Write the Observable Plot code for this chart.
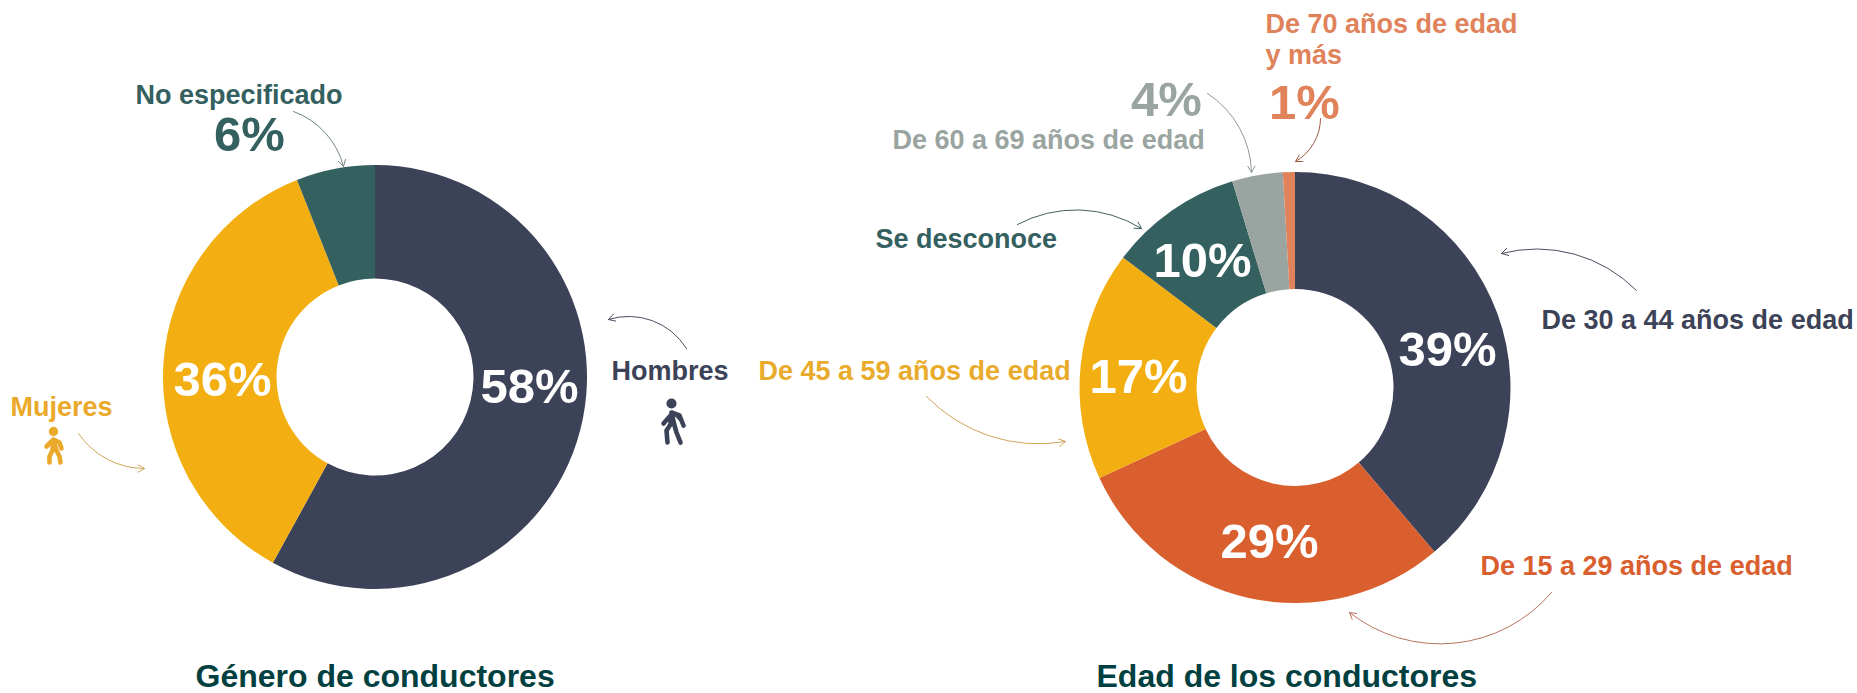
<!DOCTYPE html>
<html lang="es">
<head>
<meta charset="utf-8">
<script src="https://cdn.jsdelivr.net/npm/d3@7"></script>
<script src="https://cdn.jsdelivr.net/npm/@observablehq/plot@0.6"></script>
<style>
  html, body { margin: 0; padding: 0; background: #fff; }
  svg { display: block; }
</style>
</head>
<body>
<div id="chart"></div>
<script>
// ---- data ----
const genderCategories = ["Hombres", "Mujeres", "No especificado"];
const genderValues = [58, 36, 6];
const genderColors = ["#3c4257", "#f3af12", "#356060"];

const ageCategories = ["De 30 a 44 años de edad", "De 15 a 29 años de edad", "De 45 a 59 años de edad", "Se desconoce", "De 60 a 69 años de edad", "De 70 años de edad y más"];
const ageValues = [38.8, 29.3, 17.2, 10, 3.8, 0.9];
const ageLabels = ["39%", "29%", "17%", "10%", "4%", "1%"];
const ageColors = ["#3c4257", "#d9602e", "#f3af12", "#356060", "#9aa4a0", "#e0825a"];

// ---- layout ----
const W = 1857, H = 693;
const FONT = "'Liberation Sans', Arial, sans-serif";
const donutLeft = {cx: 375, cy: 377, outer: 212, inner: 98.5};
const donutRight = {cx: 1295, cy: 387.5, outer: 215.5, inner: 98.5};

const percentLabels = [
  {text: "58%", x: 529, y: 402, fill: "#fff"},
  {text: "36%", x: 222, y: 395, fill: "#fff"},
  {text: "6%", x: 249, y: 150, fill: genderColors[2]},
  {text: ageLabels[0], x: 1447, y: 365, fill: "#fff"},
  {text: ageLabels[1], x: 1269, y: 557, fill: "#fff"},
  {text: ageLabels[2], x: 1138, y: 392, fill: "#fff"},
  {text: ageLabels[3], x: 1202, y: 276, fill: "#fff"},
  {text: ageLabels[4], x: 1166, y: 115, fill: ageColors[4]},
  {text: ageLabels[5], x: 1304, y: 118, fill: ageColors[5]}
];
const nameLabels = [
  {text: "No especificado", x: 135, y: 103, fill: genderColors[2]},
  {text: "Mujeres", x: 10, y: 415, fill: "#eaa92a"},
  {text: "Hombres", x: 611, y: 379, fill: genderColors[0]},
  {text: ageCategories[2], x: 758, y: 379, fill: "#e9ab2c"},
  {text: "De 70 años de edad", x: 1265, y: 32, fill: ageColors[5]},
  {text: "y más", x: 1265, y: 63, fill: ageColors[5]},
  {text: ageCategories[4], x: 892, y: 148, fill: ageColors[4]},
  {text: ageCategories[3], x: 875, y: 247, fill: ageColors[3]},
  {text: ageCategories[0], x: 1541, y: 328, fill: ageColors[0]},
  {text: ageCategories[1], x: 1480, y: 574, fill: ageColors[1]}
];
const titles = [
  {text: "Género de conductores", x: 195, y: 686},
  {text: "Edad de los conductores", x: 1096, y: 686}
];
const arrows = [
  {x1: 293, y1: 111, x2: 343, y2: 166, bend: 28, stroke: "#6f8484"},
  {x1: 78, y1: 433, x2: 144, y2: 468, bend: -28, stroke: "#cda658"},
  {x1: 686, y1: 348, x2: 608, y2: 319, bend: -38, stroke: "#4a4e60"},
  {x1: 926, y1: 396, x2: 1065, y2: 441, bend: -28, stroke: "#cda658"},
  {x1: 1207, y1: 93, x2: 1251, y2: 172, bend: 28, stroke: "#8f9a96"},
  {x1: 1320, y1: 118, x2: 1295, y2: 161, bend: 30, stroke: "#a05a44"},
  {x1: 1017, y1: 224, x2: 1141, y2: 228, bend: 30, stroke: "#445f5f"},
  {x1: 1636, y1: 290, x2: 1501, y2: 253, bend: -30, stroke: "#4a4e60"},
  {x1: 1551, y1: 592, x2: 1349, y2: 612, bend: 44, stroke: "#b8735c"}
];

// ---- walking-figure symbols ----
function figure(head, strokes) {
  return {
    draw(ctx, size) {
      const s = Math.sqrt(size / Math.PI) / 10;
      ctx.moveTo((head[0] + head[2]) * s, head[1] * s);
      ctx.arc(head[0] * s, head[1] * s, head[2] * s, 0, 2 * Math.PI);
      for (const st of strokes) {
        st.forEach(([x, y], i) => i ? ctx.lineTo(x * s, y * s) : ctx.moveTo(x * s, y * s));
      }
    }
  };
}
const manSymbol = figure([-1, -19, 2.8], [
  [[-1, -10], [-2, 2], [-6, 8], [-5, 20]],
  [[-1, -10], [2, 3], [4, 10], [8, 20]],
  [[-1, -10], [7, -7], [11, 3]],
  [[-2, -7], [-9, 1]]
]);
const womanSymbol = figure([0, -15, 2.4], [
  [[0, -7], [-1, 4], [-4, 10], [-4, 16]],
  [[0, -7], [3, 4], [6, 10], [7, 16]],
  [[0, -7], [6, -4], [8, 2]],
  [[-1, -6], [-7, 0]]
]);

// ---- ring of slices, drawn through the plot's x and y scales ----
function donut(g, categories, values, colors) {
  const angles = d3.pie().sort(null)(values);
  const slices = categories.map((name, i) => ({
    name,
    start: angles[i].startAngle,
    end: angles[i].endAngle,
    color: colors[i]
  }));
  return Plot.dot(slices, {
    x: () => g.cx,
    y: () => g.cy,
    render(index, scales) {
      const outer = scales.x(g.cx + g.outer) - scales.x(g.cx);
      const inner = scales.x(g.cx + g.inner) - scales.x(g.cx);
      const shape = d3.arc().innerRadius(inner).outerRadius(outer)
        .startAngle(d => d.start).endAngle(d => d.end);
      const root = d3.create("svg:g")
        .attr("transform", `translate(${scales.x(g.cx)},${scales.y(g.cy)})`);
      root.selectAll("path").data(Array.from(index, i => slices[i])).join("path")
        .attr("d", d => shape(d))
        .attr("fill", d => d.color)
        .append("title").text(d => d.name);
      return root.node();
    }
  });
}

const plot = Plot.plot({
  width: W, height: H,
  margin: 0,
  style: {background: "#fff", fontFamily: FONT},
  x: {domain: [0, W], range: [0, W], axis: null},
  y: {domain: [0, H], range: [0, H], axis: null},
  marks: [
    donut(donutLeft, genderCategories, genderValues, genderColors),
    donut(donutRight, ageCategories, ageValues, ageColors),
    ...arrows.map(a => Plot.arrow([a], {
      x1: "x1", y1: "y1", x2: "x2", y2: "y2",
      bend: a.bend, stroke: a.stroke, strokeWidth: 1, headLength: 11
    })),
    Plot.dot([{x: 672, y: 422}], {x: "x", y: "y", r: 10, symbol: manSymbol, fill: genderColors[0], stroke: genderColors[0], strokeWidth: 4.6, strokeLinecap: "round", strokeLinejoin: "round"}),
    Plot.dot([{x: 53, y: 446}], {x: "x", y: "y", r: 10, symbol: womanSymbol, fill: "none", stroke: "#eaa92a", strokeWidth: 4.6, strokeLinecap: "round", strokeLinejoin: "round"}),
    Plot.text(percentLabels, {x: "x", y: "y", text: "text", fill: "fill", fontSize: 49, fontWeight: 700, textAnchor: "middle", lineAnchor: "bottom"}),
    Plot.text(nameLabels, {x: "x", y: "y", text: "text", fill: "fill", fontSize: 27, fontWeight: 700, textAnchor: "start", lineAnchor: "bottom"}),
    Plot.text(titles, {x: "x", y: "y", text: "text", fill: "#004040", fontSize: 32, fontWeight: 700, textAnchor: "start", lineAnchor: "bottom"})
  ]
});
document.getElementById("chart").append(plot);
</script>
</body>
</html>
